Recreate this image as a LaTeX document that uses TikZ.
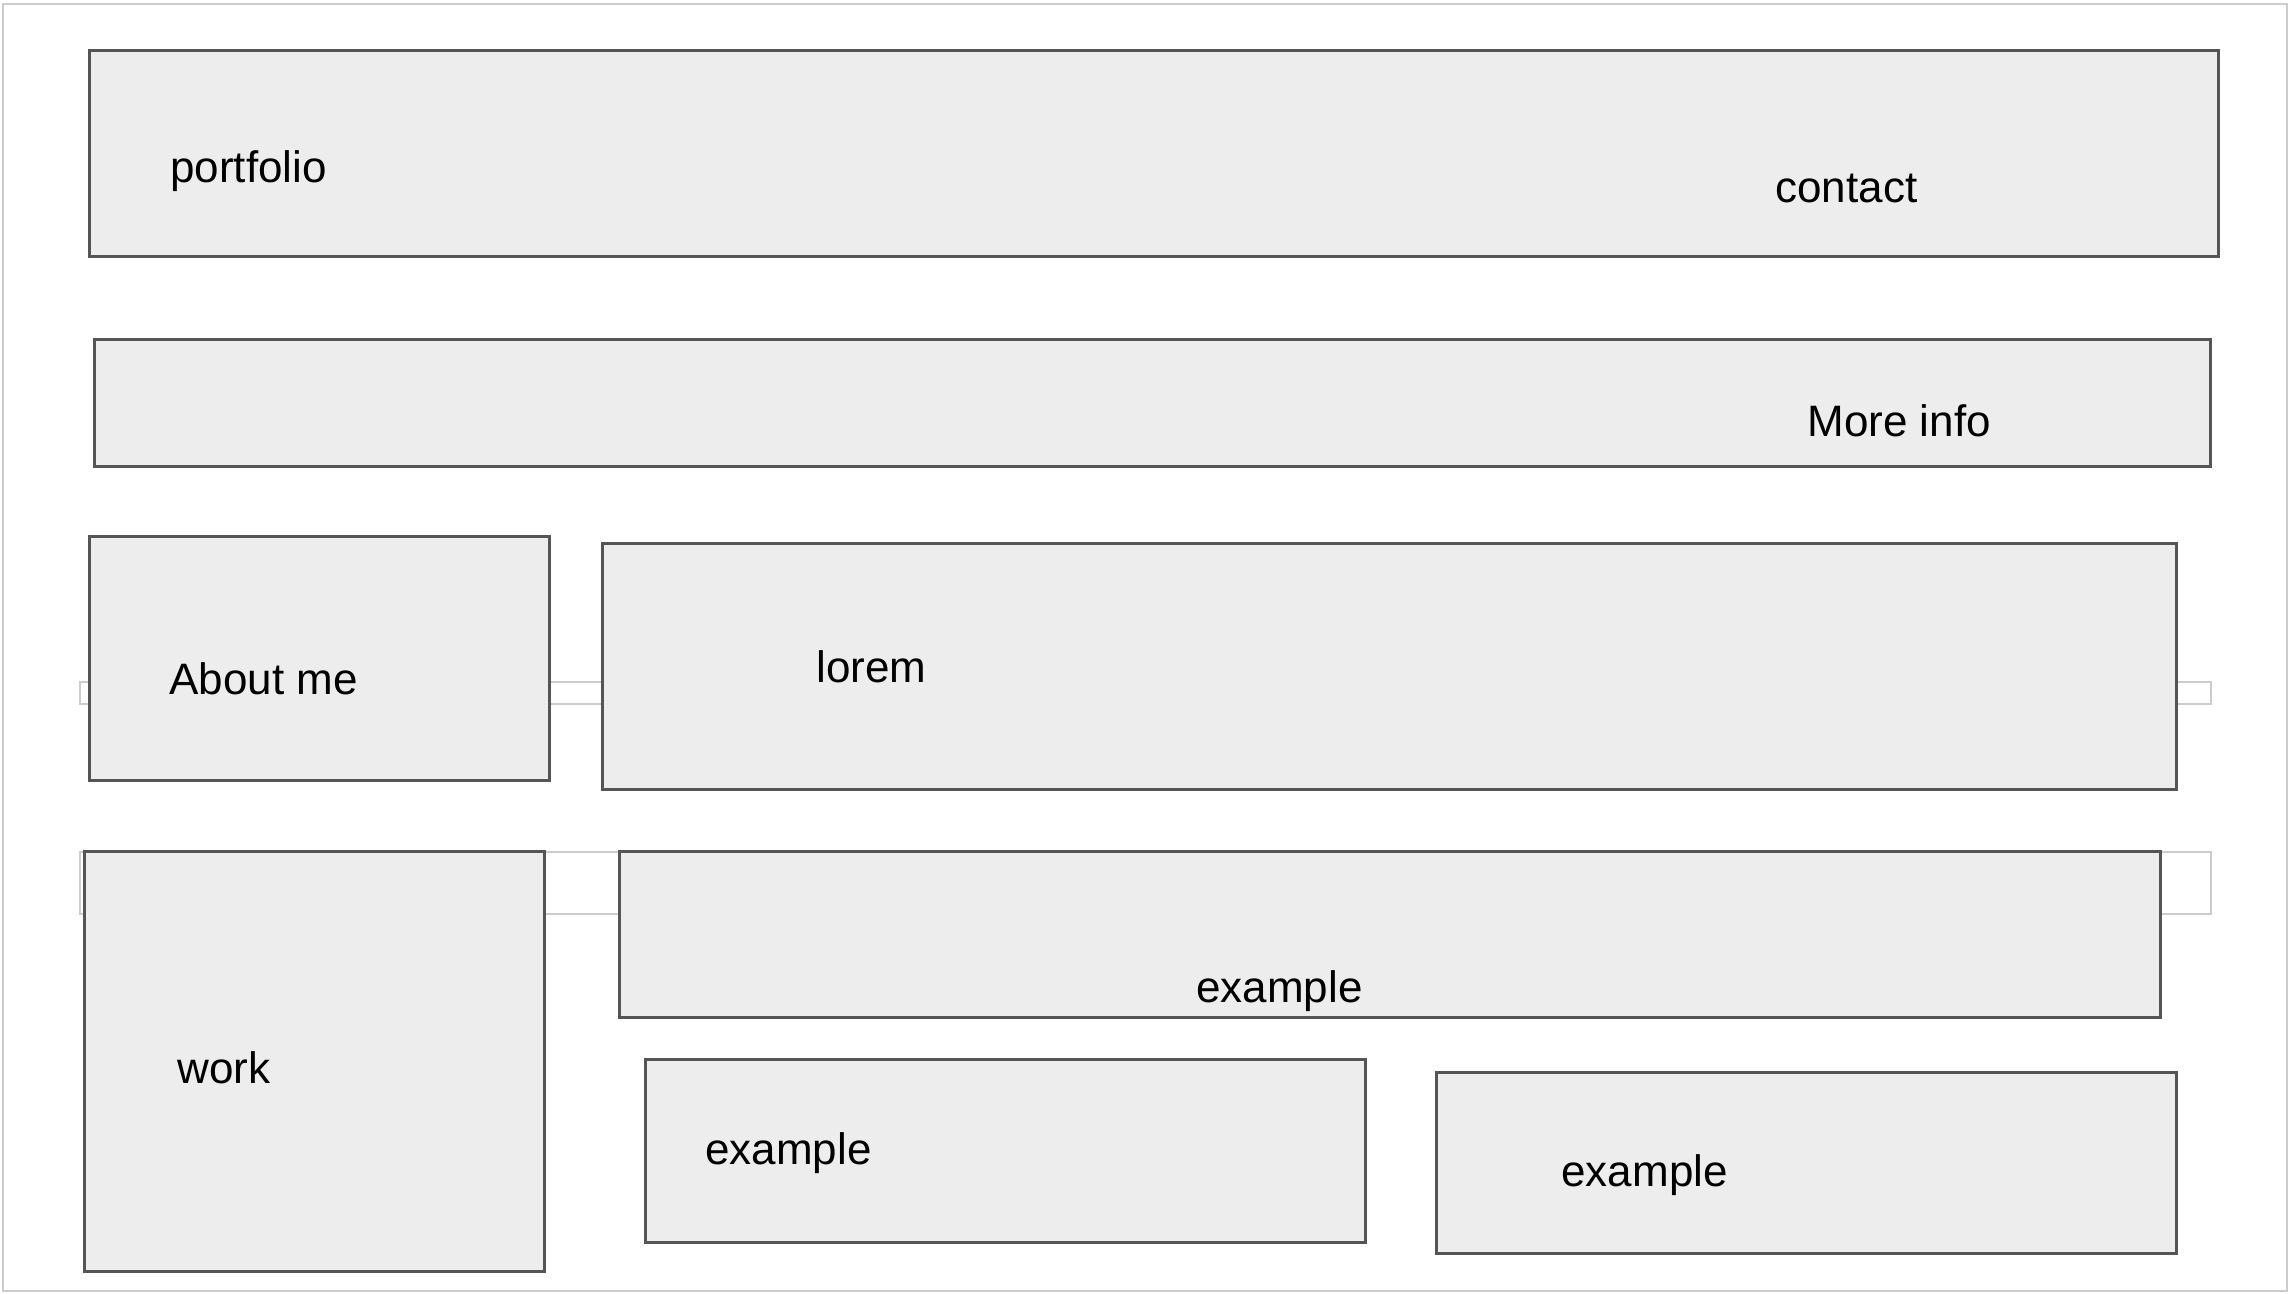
\documentclass[tikz,border=0pt]{standalone}
\usepackage{fontspec}
\setmainfont{Liberation Sans}
\definecolor{boxfill}{HTML}{EDEDED}
\definecolor{boxline}{HTML}{555555}
\definecolor{faint}{HTML}{CCCCCC}
\begin{document}
\begin{tikzpicture}[x=0.5pt,y=-0.5pt,
  box/.style={draw=boxline,fill=boxfill,line width=1.5pt},
  ghost/.style={draw=faint,line width=1pt},
  lbl/.style={anchor=base west,inner sep=0pt,font=\fontsize{22}{26}\selectfont}]
\useasboundingbox (0,0) rectangle (2290,1294);
\draw[draw=faint,line width=1pt] (3,4) rectangle (2287,1291);
% faint background bars
\draw[ghost] (80,682) rectangle (2211,704);
\draw[ghost] (80,852) rectangle (2211,914);
% boxes
\draw[box] (89,51) rectangle (2218,257);
\draw[box] (94,340) rectangle (2210,466);
\draw[box] (89,536) rectangle (549,780);
\draw[box] (602,543) rectangle (2176,789);
\draw[box] (84,851) rectangle (544,1271);
\draw[box] (619,851) rectangle (2160,1017);
\draw[box] (645,1059) rectangle (1365,1242);
\draw[box] (1436,1072) rectangle (2176,1253);
% labels
\node[lbl] (portfolio) at (170,183) {portfolio};
\node[lbl] (contact) at (1775,203) {contact};
\node[lbl] (moreinfo) at (1807,437) {More info};
\node[lbl] (about) at (169,694) {About me};
\node[lbl] (lorem) at (816,682) {lorem};
\node[lbl] (work) at (177,1083) {work};
\node[lbl] (ex1) at (1196,1002) {example};
\node[lbl] (ex2) at (705,1164) {example};
\node[lbl] (ex3) at (1561,1186) {example};
\end{tikzpicture}
\end{document}
